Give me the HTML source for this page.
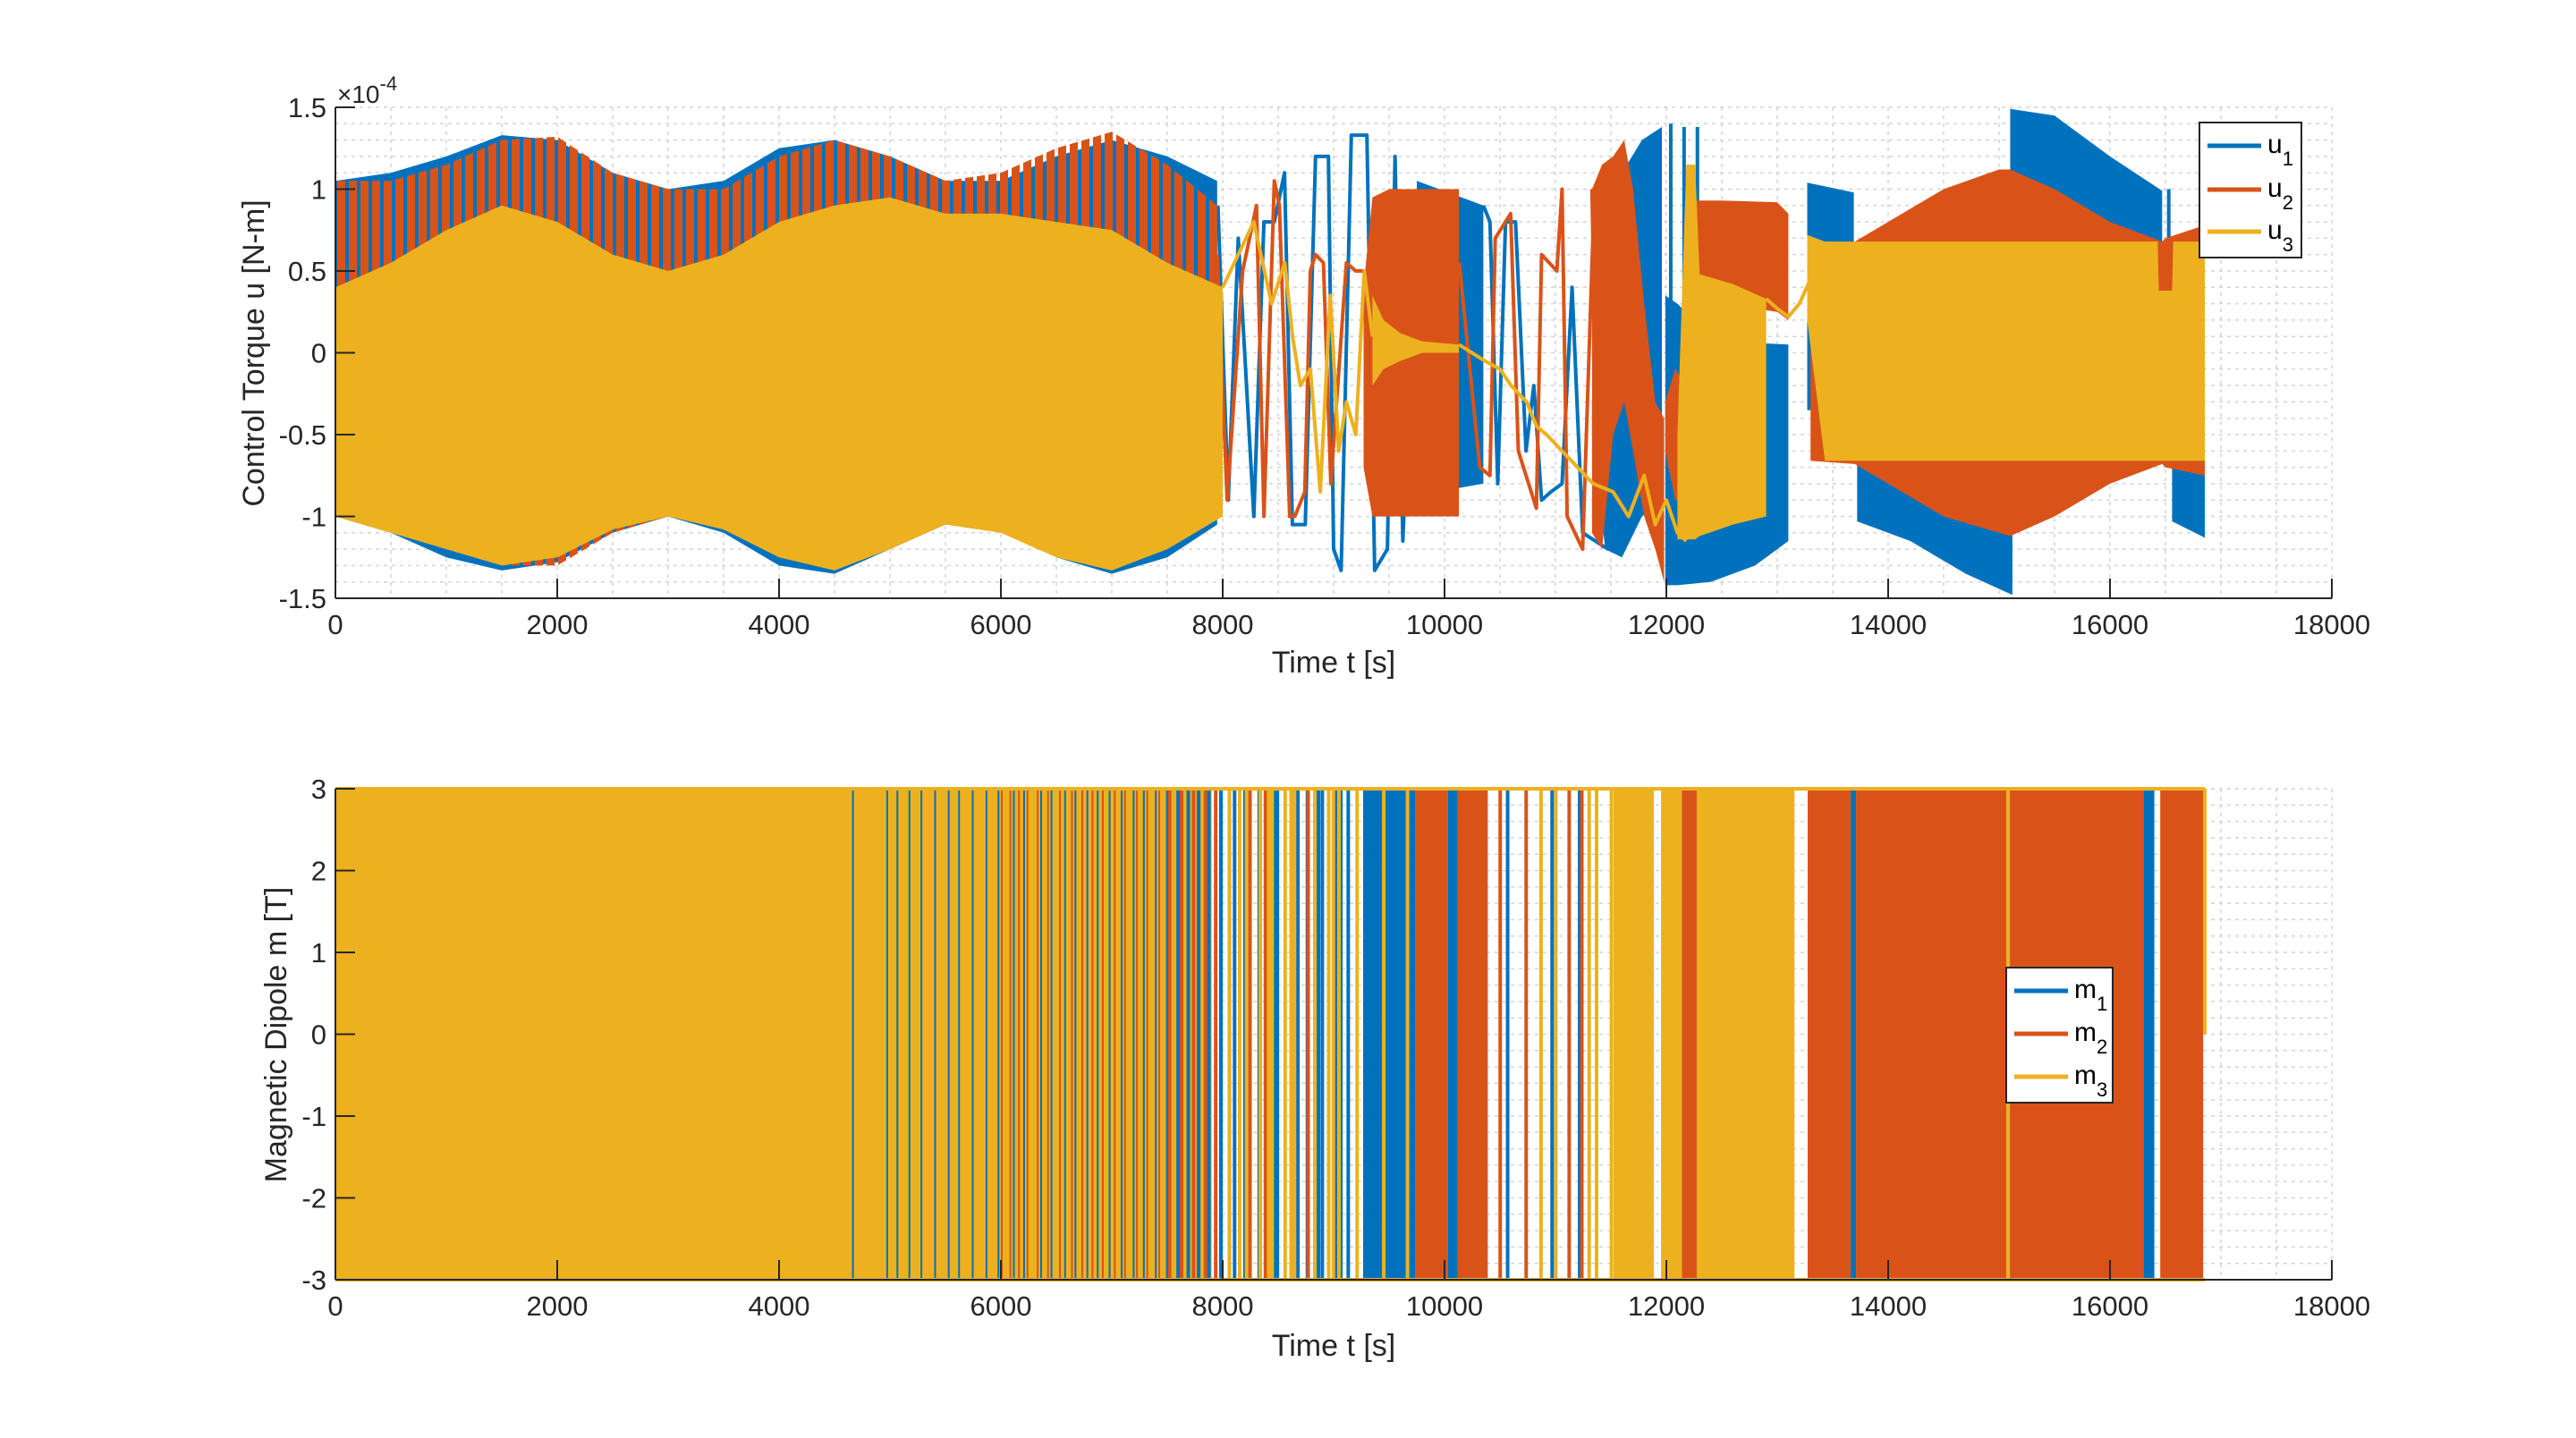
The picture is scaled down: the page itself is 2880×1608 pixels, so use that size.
<!DOCTYPE html>
<html><head><meta charset="utf-8"><style>
html,body{margin:0;padding:0;background:#fff;}
svg{display:block;font-family:"Liberation Sans",Arial,sans-serif;}
</style></head><body>
<svg id="fig" width="2880" height="1608" viewBox="0 0 2880 1608" xmlns="http://www.w3.org/2000/svg">
<defs>
<pattern id="redStripe" patternUnits="userSpaceOnUse" width="13" height="10"><rect x="0" y="0" width="9" height="10" fill="#D95319"/></pattern>
</defs>
<g id="topAxes"></g>
<g id="botAxes"></g>
</svg>
<script>
// ---------- TOP CHART DATA (u, x1e-4 N-m) ----------
const uXTicks=[0,2000,4000,6000,8000,10000,12000,14000,16000,18000];
const uYTicks=[-1.5,-1,-0.5,0,0.5,1,1.5];
const uYTickLabels=["-1.5","-1","-0.5","0","0.5","1","1.5"];
// u1 bands
const u1AT=[0,500,1000,1500,2000,2500,3000,3500,4000,4500,5000,5500,6000,6500,7000,7500,7950];
const u1AHi=[1.05,1.1,1.2,1.33,1.3,1.1,1.0,1.05,1.25,1.3,1.2,1.05,1.05,1.2,1.3,1.2,1.05];
const u1ALo=[-1.0,-1.1,-1.25,-1.33,-1.28,-1.1,-1.0,-1.1,-1.3,-1.35,-1.2,-1.05,-1.05,-1.25,-1.35,-1.25,-1.05];
const u1BT=[9750,10350];const u1BHi=[1.05,0.9];const u1BLo=[-0.87,-0.8];
const u1CT=[11330,11450,11600,11780,11960];const u1CHi=[-0.3,0.6,1.1,1.3,1.38];const u1CLo=[-0.5,-1.2,-1.25,-1.0,-0.9];
const u1DT=[11990,12100,12400,12800,13100];const u1DHi=[0.35,0.3,0.1,0.06,0.05];const u1DLo=[-1.42,-1.42,-1.4,-1.3,-1.15];
const u1ET=[13270,13690];const u1EHi=[1.04,0.98];const u1ELo=[-0.35,-0.35];
const u1FT=[13720,14200,14700,15120];const u1FHi=[0,0,0,0];const u1FLo=[-1.03,-1.15,-1.35,-1.48];
const u1GT=[15100,15500,16000,16470];const u1GHi=[1.49,1.45,1.2,0.99];const u1GLo=[0,0,0,0];
const u1HT=[16560,16855];const u1HHi=[0,0];const u1HLo=[-1.03,-1.13];
const u1SpikeT=[12040,12160,12280,16530];const u1SpikeLo=[0.3,0.3,0.3,-0.1];const u1SpikeHi=[1.4,1.38,1.38,1.0];
// u1 lines
const u1L1T=[7957,8050,8140,8281,8372,8465,8557,8628,8744,8837,8953,9000,9068,9160,9300,9370,9485,9554,9624,9750];
const u1L1V=[0.9,-0.9,0.7,-1.0,0.8,0.8,1.1,-1.05,-1.05,1.2,1.2,-1.2,-1.33,1.33,1.33,-1.33,-1.2,1.2,-1.15,1.0];
const u1L2T=[10350,10410,10480,10550,10640,10735,10805,10875,10960,11060,11150,11245,11475,11500];
const u1L2V=[0.9,0.8,-0.8,0.8,0.8,-0.6,-0.2,-0.9,-0.85,-0.8,0.4,-1.1,-1.2,0.6];
// u2 bands
const u2AT=[0,500,1000,1500,2000,2500,3000,3500,4000,4500,5000,5500,6000,6500,7000,7500,7950];
const u2AHi=[1.05,1.05,1.15,1.3,1.32,1.1,1.0,1.0,1.2,1.3,1.2,1.05,1.1,1.25,1.35,1.15,0.9];
const u2ALo=[-1.0,-1.05,-1.2,-1.3,-1.3,-1.1,-1.0,-1.05,-1.25,-1.3,-1.2,-1.0,-1.05,-1.2,-1.3,-1.2,-1.0];
const u2BT=[9270,9350,9500,10130];const u2BHi=[0.4,0.95,1.0,1.0];const u2BLo=[-0.7,-1.0,-1.0,-1.0];
const u2CT=[11330,11420,11520,11620,11700,11800,11900,11980];const u2CHi=[1.0,1.15,1.2,1.3,1.0,0.3,-0.3,-0.4];const u2CLo=[-1.1,-1.2,-0.5,-0.3,-0.6,-1.0,-1.2,-1.4];
const u2DT=[11990,12080,12180];const u2DHi=[-0.3,-0.1,-0.2];const u2DLo=[-0.6,-0.9,-0.9];
const u2ET=[12180,12500,13000,13100];const u2EHi=[0.93,0.93,0.92,0.85];const u2ELo=[0.35,0.3,0.25,0.2];
const u2FT=[13300,13700,14000,14500,15000,15100,15500,16000,16470,16500,16855];
const u2FHi=[0.66,0.68,0.8,1.0,1.12,1.12,1.0,0.8,0.68,0.7,0.78];
const u2FLo=[-0.66,-0.68,-0.8,-1.0,-1.1,-1.12,-1.0,-0.8,-0.68,-0.7,-0.75];
// u2 lines
const u2L1T=[7950,8040,8180,8305,8372,8465,8511,8604,8650,8740,8790,8837,8908,8975,9115,9200,9270];
const u2L1V=[0.6,-0.9,0.5,0.9,-1.0,1.05,0.9,-1.0,-1.0,-0.85,0.5,0.6,0.55,-0.8,0.55,0.5,0.5];
const u2L2T=[10133,10318,10410,10457,10596,10665,10828,10875,11013,11060,11106,11245,11337,11330];
const u2L2V=[0.55,-0.7,-0.75,0.7,0.85,-0.6,-0.95,0.6,0.5,1.0,-1.0,-1.2,0.7,1.0];
// u3 bands
const u3AT=[0,500,1000,1500,2000,2500,3000,3500,4000,4500,5000,5500,6000,6500,7000,7500,8000];
const u3AHi=[0.4,0.55,0.75,0.9,0.8,0.6,0.5,0.6,0.8,0.9,0.95,0.85,0.85,0.8,0.75,0.55,0.4];
const u3ALo=[-1.0,-1.1,-1.2,-1.3,-1.25,-1.08,-1.0,-1.08,-1.25,-1.33,-1.2,-1.05,-1.1,-1.25,-1.33,-1.2,-1.0];
const u3BT=[9350,9450,9600,9800,10130];const u3BHi=[0.35,0.2,0.12,0.07,0.05];const u3BLo=[-0.2,-0.1,-0.05,0.0,0.0];
const u3CT=[12100,12180,12260,12300,12600,12900];const u3CHi=[-0.5,1.15,1.15,0.48,0.42,0.33];const u3CLo=[-1.14,-1.14,-1.14,-1.12,-1.05,-1.0];
const u3DT=[13270,13430,16430,16440,16560,16570,16855];const u3DHi=[0.72,0.68,0.68,0.38,0.38,0.68,0.68];const u3DLo=[0.2,-0.66,-0.66,-0.66,-0.66,-0.66,-0.66];
// u3 lines
const u3L1T=[8000,8281,8440,8560,8630,8700,8790,8880,8970,9045,9115,9200,9276,9350];
const u3L1V=[0.4,0.8,0.3,0.55,0.1,-0.2,-0.1,-0.85,0.35,-0.6,-0.3,-0.5,0.5,0.1];
const u3L2T=[10130,10365,10500,10600,10740,10830,10920,11060,11200,11340,11520,11660,11800,11900,12000,12100,12180];
const u3L2V=[0.05,-0.05,-0.1,-0.2,-0.3,-0.45,-0.5,-0.6,-0.7,-0.8,-0.85,-1.0,-0.75,-1.05,-0.9,-1.1,-1.15];
const u3L3T=[12900,13000,13100,13200,13300,13430];const u3L3V=[0.33,0.27,0.22,0.3,0.45,0.6];

// ---------- BOTTOM CHART DATA (m, T) ----------
const mYTicks=[-3,-2,-1,0,1,2,3];
const mEnd=16855;
const m3Fill=[[0,7900],[11524,11887],[11952,12140],[12274,13155]];
const m1Fill=[[9266,9734],[10032,10120],[16300,16400],[13661,13710]];
const m2Fill=[[9734,10032],[10120,10390],[12140,12274],[13274,13661],[13710,15065],[15097,16300],[16453,16840]];
const m1Lines=[4666,4975,5067,5175,5283,5407,5530,5623,5746,5870,5978,6117,6209,6363,6456,6579,6672,6780,6873,6980,7089,7197,7289,7397,7505,7598,7690,7783,7876,7984,8107,8200,8329,8338,8463,8493,8630,8678,8764,8863,8898,9017,9065,9132,10569,10970,11218];
const m2Lines=[6008,6086,6163,6240,6332,6425,6533,6641,6734,6826,6919,7027,7119,7227,7320,7428,7521,7629,7737,7845,7937,8061,8246,8385,8770,10502,10736,11124,11238];
const m3Lines=[8060,8153,8215,8338,8415,8429,8446,8563,8616,8647,8831,8956,8998,9048,9212,9452,9666,10870,11004,11304,11371,11505,15080];

// ---------- helpers ----------
const NS="http://www.w3.org/2000/svg";
const C1="#0072BD",C2="#D95319",C3="#EDB120";
const AX={left:375,right:2607,tMax:18000};
function xS(t){return AX.left+t*(AX.right-AX.left)/AX.tMax;}
function yTop(v){return 120+(1.5-v)*549/3;}
function yBot(v){return 882+(3-v)*549/6;}
function mk(tag,attrs,parent){const e=document.createElementNS(NS,tag);for(const k in attrs)e.setAttribute(k,attrs[k]);parent.appendChild(e);return e;}
const topG=document.getElementById('topAxes');
const botG=document.getElementById('botAxes');

function grid(g,yFn,vMin,vMax,vStep,y0,y1){
  const gg=mk('g',{},g);
  
  
  for(let t=500;t<=18000;t+=500){
    const l=mk('line',{x1:xS(t),x2:xS(t),y1:y0,y2:y1,stroke:'#d4d4d4','stroke-width':1.5,'stroke-dasharray':'4 5'},gg);
    
    
  }
  const n=Math.round((vMax-vMin)/vStep);
  for(let i=1;i<=n;i++){
    const v=vMin+i*vStep;
    const l=mk('line',{x1:AX.left,x2:AX.right,y1:yFn(v),y2:yFn(v),stroke:'#d4d4d4','stroke-width':1.5,'stroke-dasharray':'4 5'},gg);
    
    
  }
}
function band(g,T,Hi,Lo,fill,yFn,name){
  let d='';
  for(let i=0;i<T.length;i++)d+=(i?'L':'M')+xS(T[i]).toFixed(1)+','+yFn(Hi[i]).toFixed(1);
  for(let i=T.length-1;i>=0;i--)d+='L'+xS(T[i]).toFixed(1)+','+yFn(Lo[i]).toFixed(1);
  const p=mk('path',{d:d+'Z',fill:fill,stroke:'none'},g);
  
  
}
function drawLine(g,T,V,col,yFn,name){
  const pts=T.map((t,i)=>xS(t).toFixed(1)+','+yFn(V[i]).toFixed(1)).join(' ');
  const p=mk('polyline',{points:pts,fill:'none',stroke:col,'stroke-width':4,'stroke-linejoin':'round'},g);
  
  
}
function axes(g,yFn,yTicks,yLabels,y0,y1){
  const a=mk('g',{},g);
  
  
  mk('line',{x1:AX.left,x2:AX.left,y1:y0,y2:y1,stroke:'#262626','stroke-width':2},a);
  mk('line',{x1:AX.left,x2:AX.right,y1:y1,y2:y1,stroke:'#262626','stroke-width':2},a);
  uXTicks.forEach(t=>{
    mk('line',{x1:xS(t),x2:xS(t),y1:y1,y2:y1-22,stroke:'#262626','stroke-width':2},a);
    const tx=mk('text',{x:xS(t),y:y1+40,'font-size':31,'text-anchor':'middle',fill:'#262626'},a);
    tx.textContent=t;
    
    
  });
  yTicks.forEach((v,i)=>{
    mk('line',{x1:AX.left,x2:AX.left+22,y1:yFn(v),y2:yFn(v),stroke:'#262626','stroke-width':2},a);
    const tx=mk('text',{x:AX.left-10,y:yFn(v)+11,'font-size':31,'text-anchor':'end',fill:'#262626'},a);
    tx.textContent=yLabels[i];
    
    
  });
}
function legend(g,x,y,w,h,labels,cols,lineYs){
  const lg=mk('g',{},g);
  
  
  mk('rect',{x:x,y:y,width:w,height:h,fill:'#fff',stroke:'#262626','stroke-width':2},lg);
  labels.forEach((lb,i)=>{
    const e=mk('g',{},lg);
    
    
    mk('line',{x1:x+9,x2:x+69,y1:lineYs[i],y2:lineYs[i],stroke:cols[i],'stroke-width':5},e);
    const t=mk('text',{x:x+76,y:lineYs[i]+8,'font-size':30,fill:'#000'},e);
    t.textContent=lb.charAt(0);
    const s=mk('tspan',{dy:14,'font-size':22},t);
    s.textContent=lb.charAt(1);
  });
}

// ---------- TOP CHART ----------
grid(topG,yTop,-1.5,1.5,0.1,120,669);
const tp=mk('g',{},topG);


band(tp,u1AT,u1AHi,u1ALo,C1,yTop,'u1-band-early');
band(tp,u1BT,u1BHi,u1BLo,C1,yTop,'u1-band-10000');
band(tp,u1CT,u1CHi,u1CLo,C1,yTop,'u1-lens');
band(tp,u1DT,u1DHi,u1DLo,C1,yTop,'u1-band-12000');
band(tp,u1ET,u1EHi,u1ELo,C1,yTop,'u1-band-13500');
band(tp,u1FT,u1FHi,u1FLo,C1,yTop,'u1-band-14000');
band(tp,u1GT,u1GHi,u1GLo,C1,yTop,'u1-band-15500');
band(tp,u1HT,u1HHi,u1HLo,C1,yTop,'u1-band-16700');
u1SpikeT.forEach((t,i)=>{
  const l=mk('line',{x1:xS(t),x2:xS(t),y1:yTop(u1SpikeLo[i]),y2:yTop(u1SpikeHi[i]),stroke:C1,'stroke-width':4},tp);
  
  
});
drawLine(tp,u1L1T,u1L1V,C1,yTop,'u1-line-8000');
drawLine(tp,u1L2T,u1L2V,C1,yTop,'u1-line-10500');
band(tp,u2AT,u2AHi,u2ALo,'url(#redStripe)',yTop,'u2-band-early');
band(tp,u2BT,u2BHi,u2BLo,C2,yTop,'u2-band-9500');
band(tp,u2CT,u2CHi,u2CLo,C2,yTop,'u2-lens');
band(tp,u2DT,u2DHi,u2DLo,C2,yTop,'u2-band-12000');
band(tp,u2ET,u2EHi,u2ELo,C2,yTop,'u2-band-12500');
band(tp,u2FT,u2FHi,u2FLo,C2,yTop,'u2-band-late');
drawLine(tp,u2L1T,u2L1V,C2,yTop,'u2-line-8000');
drawLine(tp,u2L2T,u2L2V,C2,yTop,'u2-line-10500');
band(tp,u3AT,u3AHi,u3ALo,C3,yTop,'u3-band-early');
band(tp,u3BT,u3BHi,u3BLo,C3,yTop,'u3-band-9500');
band(tp,u3CT,u3CHi,u3CLo,C3,yTop,'u3-band-12500');
band(tp,u3DT,u3DHi,u3DLo,C3,yTop,'u3-band-late');
drawLine(tp,u3L1T,u3L1V,C3,yTop,'u3-line-8500');
drawLine(tp,u3L2T,u3L2V,C3,yTop,'u3-line-11000');
drawLine(tp,u3L3T,u3L3V,C3,yTop,'u3-line-13000');
axes(topG,yTop,uYTicks,uYTickLabels,120,669);
(function(){
  const e=mk('text',{x:377,y:115,'font-size':28,fill:'#262626'},topG);
  e.textContent='×10';
  
  
  const s=mk('tspan',{dy:-14,'font-size':22},e);s.textContent='-4';
  const xl=mk('text',{x:1491,y:752,'font-size':34,'text-anchor':'middle',fill:'#262626'},topG);
  xl.textContent='Time t [s]';
  
  
  const yl=mk('text',{x:0,y:0,'font-size':34,'text-anchor':'middle',fill:'#262626',transform:'translate(295,395) rotate(-90)'},topG);
  yl.textContent='Control Torque u [N-m]';
  
  
})();
legend(topG,2459,137,114,151,['u1','u2','u3'],[C1,C2,C3],[163,212,259]);

// ---------- BOTTOM CHART ----------
grid(botG,yBot,-3,3,0.2,882,1431);
const bp=mk('g',{},botG);


function fills(arr,col,name){
  arr.forEach(s=>{
    const r=mk('rect',{x:xS(s[0]),y:yBot(3),width:xS(s[1])-xS(s[0]),height:yBot(-3)-yBot(3),fill:col},bp);
    
    
  });
}
function vlines(arr,col,name){
  arr.forEach(t=>{
    const l=mk('line',{x1:xS(t),x2:xS(t),y1:yBot(3),y2:yBot(-3),stroke:col,'stroke-width':(t<7500?2:4)},bp);
    
    
  });
}
function hedge(col,end,name){
  [3,-3].forEach(v=>{
    const l=mk('line',{x1:xS(0),x2:xS(end),y1:yBot(v),y2:yBot(v),stroke:col,'stroke-width':4},bp);
    
    
  });
}
hedge(C1,mEnd,'m1-saturation-edge');
hedge(C2,mEnd,'m2-saturation-edge');
fills(m3Fill,C3,'m3-dense-region');
fills(m1Fill,C1,'m1-dense-region');
fills(m2Fill,C2,'m2-dense-region');
vlines(m1Lines,C1,'m1-switch');
vlines(m2Lines,C2,'m2-switch');
vlines(m3Lines,C3,'m3-switch');
hedge(C3,mEnd,'m3-saturation-edge');
(function(){
  const l=mk('line',{x1:xS(mEnd),x2:xS(mEnd),y1:yBot(3),y2:yBot(0),stroke:C3,'stroke-width':4},bp);
  
  
})();
axes(botG,yBot,mYTicks,mYTicks.map(String),882,1431);
(function(){
  const xl=mk('text',{x:1491,y:1516,'font-size':34,'text-anchor':'middle',fill:'#262626'},botG);
  xl.textContent='Time t [s]';
  
  
  const yl=mk('text',{x:0,y:0,'font-size':34,'text-anchor':'middle',fill:'#262626',transform:'translate(320,1157) rotate(-90)'},botG);
  yl.textContent='Magnetic Dipole m [T]';
  
  
})();
legend(botG,2243,1082,119,151,['m1','m2','m3'],[C1,C2,C3],[1108,1156,1204]);
</script>
</body></html>
